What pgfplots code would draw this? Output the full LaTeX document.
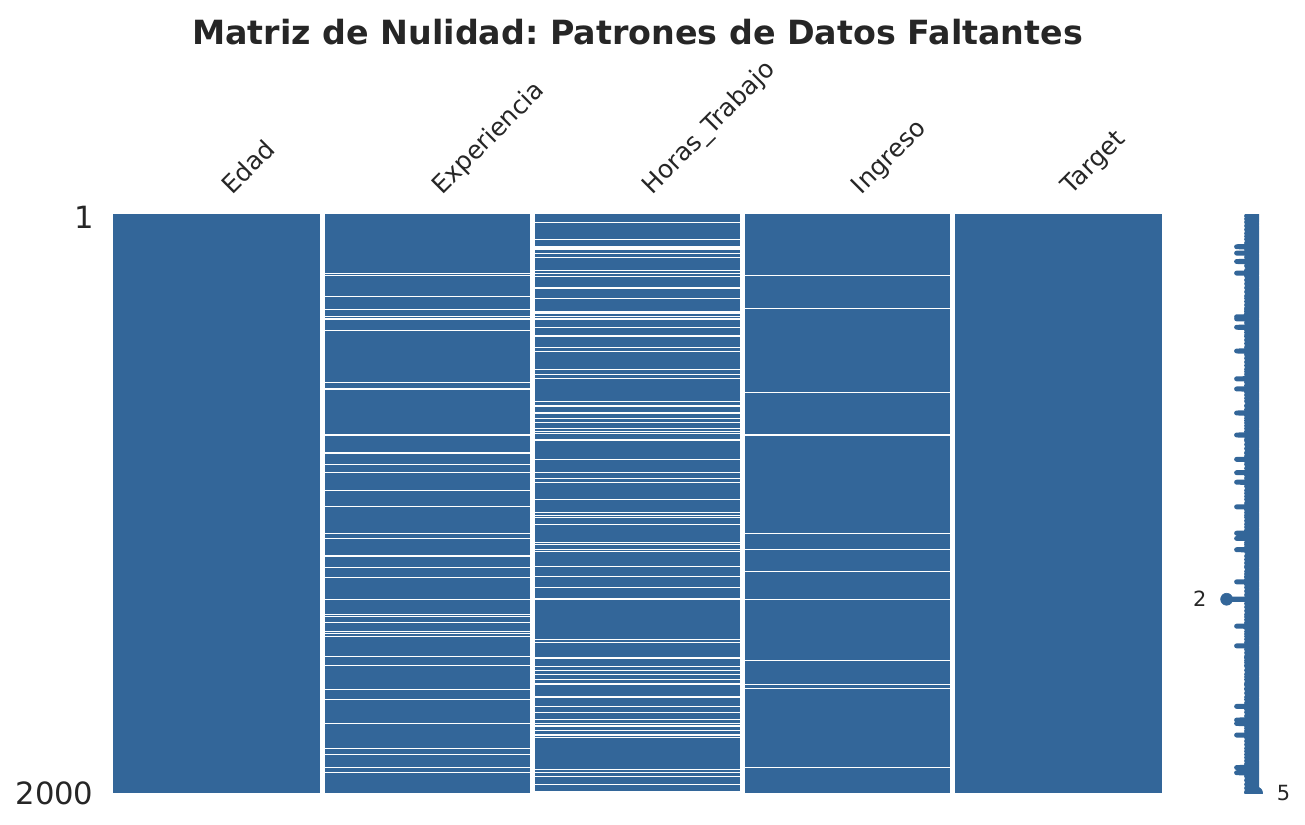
\documentclass[border=0pt]{standalone}
\usepackage{fontspec}
\setmainfont{DejaVu Sans}
\usepackage{pgfplots}
\usepackage{pgfplotstable}
\pgfplotsset{compat=1.18}
\definecolor{mblue}{HTML}{336699}
\definecolor{tc}{HTML}{262626}
\frenchspacing

% missing cells: column index (1=Experiencia, 2=Horas_Trabajo, 3=Ingreso), row
\pgfplotstableread{
col row
1 205
1 214
1 284
1 330
1 356
1 363
1 402
1 582
1 605
1 764
1 825
1 827
1 865
1 894
1 955
1 1012
1 1103
1 1121
1 1182
1 1221
1 1255
1 1331
1 1333
1 1384
1 1392
1 1412
1 1443
1 1451
1 1459
1 1528
1 1559
1 1642
1 1677
1 1760
1 1846
1 1867
1 1912
1 1930
2 29
2 88
2 114
2 117
2 120
2 123
2 136
2 150
2 195
2 205
2 215
2 256
2 292
2 336
2 339
2 345
2 356
2 363
2 392
2 419
2 424
2 461
2 474
2 537
2 554
2 570
2 647
2 662
2 664
2 688
2 706
2 722
2 742
2 752
2 758
2 779
2 784
2 848
2 894
2 913
2 927
2 986
2 1032
2 1041
2 1048
2 1072
2 1136
2 1143
2 1160
2 1167
2 1217
2 1252
2 1290
2 1329
2 1331
2 1469
2 1480
2 1532
2 1534
2 1562
2 1576
2 1590
2 1608
2 1621
2 1627
2 1669
2 1701
2 1721
2 1748
2 1760
2 1769
2 1786
2 1800
2 1809
2 1918
2 1930
2 1942
2 1970
2 1996
2 1999
3 212
3 326
3 616
3 764
3 1103
3 1160
3 1235
3 1331
3 1542
3 1625
3 1639
3 1912
}\missing

\begin{document}
\begin{tikzpicture}
\useasboundingbox (-75.33bp,-21.33bp) rectangle (794.67bp,528.67bp);
\begin{axis}[
  name=main, at={(0,0)}, anchor=south west,
  scale only axis, width=699.33bp, height=386bp,
  xmin=-0.5, xmax=4.5, ymin=0.5, ymax=2000.5, y dir=reverse,
  axis line style={draw=none}, tick style={draw=none},
  xtick=\empty, ytick={2000}, yticklabels={2000},
  extra y ticks={1}, extra y tick labels={1},
  extra y tick style={yticklabel style={yshift=-2bp}},
  /pgf/number format/assume math mode=true,
  yticklabel style={font=\fontsize{20.5}{24}\selectfont, text=tc, inner sep=0pt, anchor=east, xshift=-12.8bp},
  clip=false,
]
\addplot[draw=none, fill=mblue] coordinates {(-0.5,0.5) (4.5,0.5) (4.5,2000.5) (-0.5,2000.5)} -- cycle;
\addplot[only marks, mark=-, white, line width=0.75bp, mark size=69.93bp] table[x=col,y=row] {\missing};
\addplot[white, line width=3.3bp, unbounded coords=jump] coordinates {(0.5,0.5) (0.5,2000.5) (nan,nan) (1.5,0.5) (1.5,2000.5) (nan,nan) (2.5,0.5) (2.5,2000.5) (nan,nan) (3.5,0.5) (3.5,2000.5)};
\foreach \i/\lab in {0/Edad,1/Experiencia,2/Horas\_Trabajo,3/Ingreso,4/Target}{
  \edef\temp{\noexpand\node[rotate=45, anchor=base west, inner sep=0pt, font=\noexpand\fontsize{16.7}{19}\noexpand\selectfont, text=tc] at ([xshift=9.6bp,yshift=12.4bp]axis cs:\i,0.5) {\unexpanded\expandafter{\lab}};}
  \temp
}
\node[anchor=base, inner sep=0pt, font=\fontsize{22.3}{26}\selectfont\bfseries, text=tc] at ([yshift=113.3bp]axis cs:2,0.5) {Matriz de Nulidad: Patrones de Datos Faltantes};
\end{axis}
\begin{axis}[
  at={(729.1bp,0)}, anchor=south west,
  scale only axis, width=46.6bp, height=386bp,
  xmin=0, xmax=7, ymin=1, ymax=2000, y dir=reverse,
  hide axis, clip=true, clip marker paths=true,
]
\addplot[mblue, line width=3.3bp, line join=round] coordinates {
(5,1) (5,7) (4,8) (5,9) (5,17) (4,18) (5,19) (5,28) (4,29) (5,30)
(5,41) (4,42) (5,43) (5,54) (4,55) (5,56) (5,67) (4,68) (5,69) (5,77) (4,78) (5,79)
(5,87) (4,88) (5,89) (5,100) (4,101) (5,102) (5,113) (3,114) (5,115)
(5,116) (4,117) (5,118) (5,119) (4,120) (5,121) (5,122) (4,123) (5,124)
(5,135) (3,136) (5,137) (5,149) (4,150) (5,151) (5,164) (3,165) (5,166)
(5,179) (4,180) (5,181) (5,194) (4,195) (5,196) (5,204) (3,205) (5,206)
(5,211) (4,212) (5,213) (4,214) (4,215) (5,216) (5,228) (4,229) (5,230) (5,241) (4,242) (5,243)
(5,255) (4,256) (5,257) (5,269) (4,270) (5,271) (5,283) (4,284) (5,285) (5,291) (4,292) (5,293)
(5,302) (4,303) (5,304) (5,314) (4,315) (5,316) (5,325) (4,326) (5,327) (5,329) (4,330) (5,331)
(5,335) (4,336) (5,337) (5,338) (4,339) (5,340) (5,344) (4,345) (5,346) (5,355) (3,356) (5,357)
(5,362) (3,363) (5,364) (5,376) (4,377) (5,378) (5,391) (3,392) (5,393) (5,401) (4,402) (5,403)
(5,409) (4,410) (5,411) (5,418) (4,419) (5,420) (5,423) (4,424) (5,425) (5,435) (4,436) (5,437)
(5,447) (4,448) (5,449) (5,460) (4,461) (5,462) (5,473) (3,474) (5,475) (5,486) (4,487) (5,488)
(5,498) (4,499) (5,500) (5,511) (4,512) (5,513) (5,523) (4,524) (5,525) (5,536) (4,537) (5,538)
(5,544) (4,545) (5,546) (5,553) (4,554) (5,555) (5,561) (4,562) (5,563) (5,569) (3,570) (5,571)
(5,581) (4,582) (5,583) (5,592) (4,593) (5,594) (5,604) (3,605) (5,606) (5,615) (4,616) (5,617)
(5,625) (4,626) (5,627) (5,636) (4,637) (5,638) (5,646) (4,647) (5,648) (5,661) (4,662) (5,663) (4,664) (5,665)
(5,675) (4,676) (5,677) (5,687) (3,688) (5,689) (5,696) (4,697) (5,698) (5,705) (4,706) (5,707)
(5,713) (4,714) (5,715) (5,721) (4,722) (5,723) (5,731) (4,732) (5,733) (5,741) (4,742) (5,743)
(5,751) (4,752) (5,753) (5,757) (4,758) (5,759) (5,763) (3,764) (5,765) (5,778) (4,779) (5,780)
(5,783) (4,784) (5,785) (5,796) (4,797) (5,798) (5,810) (4,811) (5,812) (5,824) (4,825) (5,826) (4,827) (5,828)
(5,836) (4,837) (5,838) (5,847) (3,848) (5,849) (5,855) (4,856) (5,857) (5,864) (4,865) (5,866)
(5,878) (4,879) (5,880) (5,893) (3,894) (5,895) (5,902) (4,903) (5,904) (5,912) (4,913) (5,914)
(5,926) (3,927) (5,928) (5,940) (4,941) (5,942) (5,954) (4,955) (5,956) (5,964) (4,965) (5,966)
(5,975) (4,976) (5,977) (5,985) (4,986) (5,987) (5,998) (4,999) (5,1000) (5,1011) (3,1012) (5,1013)
(5,1021) (4,1022) (5,1023) (5,1031) (4,1032) (5,1033) (5,1040) (4,1041) (5,1042) (5,1047) (4,1048) (5,1049)
(5,1059) (4,1060) (5,1061) (5,1071) (4,1072) (5,1073) (5,1081) (4,1082) (5,1083) (5,1092) (4,1093) (5,1094)
(5,1102) (3,1103) (5,1104) (5,1111) (4,1112) (5,1113) (5,1120) (3,1121) (5,1122) (5,1135) (4,1136) (5,1137)
(5,1142) (4,1143) (5,1144) (5,1150) (4,1151) (5,1152) (5,1159) (3,1160) (5,1161) (5,1166) (4,1167) (5,1168)
(5,1181) (4,1182) (5,1183) (5,1193) (4,1194) (5,1195) (5,1205) (4,1206) (5,1207) (5,1216) (4,1217) (5,1218)
(5,1220) (4,1221) (5,1222) (5,1234) (4,1235) (5,1236) (5,1243) (4,1244) (5,1245) (5,1251) (4,1252) (5,1253)
(5,1254) (4,1255) (5,1256) (5,1262) (4,1263) (5,1264) (5,1270) (3,1271) (5,1272) (5,1279) (4,1280) (5,1281)
(5,1289) (4,1290) (5,1291) (5,1302) (4,1303) (5,1304) (5,1315) (4,1316) (5,1317)
(5,1328) (4,1329) (5,1330) (2,1331) (5,1332) (4,1333) (5,1334)
(5,1345) (4,1346) (5,1347) (5,1357) (4,1358) (5,1359) (5,1370) (4,1371) (5,1372) (5,1383) (4,1384) (5,1385)
(5,1391) (4,1392) (5,1393) (5,1401) (4,1402) (5,1403) (5,1411) (4,1412) (5,1413) (5,1423) (3,1424) (5,1425)
(5,1432) (4,1433) (5,1434) (5,1442) (4,1443) (5,1444) (5,1450) (4,1451) (5,1452) (5,1458) (4,1459) (5,1460)
(5,1468) (4,1469) (5,1470) (5,1479) (4,1480) (5,1481) (5,1491) (3,1492) (5,1493) (5,1503) (4,1504) (5,1505)
(5,1515) (4,1516) (5,1517) (5,1527) (4,1528) (5,1529) (5,1531) (4,1532) (5,1533) (4,1534) (5,1535)
(5,1541) (4,1542) (5,1543) (5,1549) (4,1550) (5,1551) (5,1558) (4,1559) (5,1560) (5,1561) (4,1562) (5,1563)
(5,1575) (4,1576) (5,1577) (5,1589) (4,1590) (5,1591) (5,1598) (4,1599) (5,1600) (5,1607) (4,1608) (5,1609)
(5,1620) (4,1621) (5,1622) (5,1624) (4,1625) (5,1626) (4,1627) (5,1628) (5,1638) (4,1639) (5,1640) (5,1641) (4,1642) (5,1643)
(5,1654) (4,1655) (5,1656) (5,1668) (4,1669) (5,1670) (5,1676) (4,1677) (5,1678) (5,1688) (4,1689) (5,1690)
(5,1700) (3,1701) (5,1702) (5,1710) (4,1711) (5,1712) (5,1720) (4,1721) (5,1722) (5,1733) (4,1734) (5,1735)
(5,1747) (3,1748) (5,1749) (5,1759) (3,1760) (5,1761) (5,1768) (4,1769) (5,1770) (5,1776) (4,1777) (5,1778)
(5,1785) (4,1786) (5,1787) (5,1799) (3,1800) (5,1801) (5,1808) (4,1809) (5,1810) (5,1820) (4,1821) (5,1822)
(5,1832) (4,1833) (5,1834) (5,1845) (4,1846) (5,1847) (5,1855) (4,1856) (5,1857) (5,1866) (4,1867) (5,1868)
(5,1877) (4,1878) (5,1879) (5,1888) (4,1889) (5,1890) (5,1899) (4,1900) (5,1901) (5,1911) (3,1912) (5,1913)
(5,1917) (4,1918) (5,1919) (5,1929) (3,1930) (5,1931) (5,1941) (4,1942) (5,1943) (5,1955) (4,1956) (5,1957)
(5,1969) (4,1970) (5,1971) (5,1982) (4,1983) (5,1984) (5,1995) (4,1996) (5,1997) (5,1998) (4,1999) (5,2000)
};
\addplot[only marks, mark=*, mark size=4bp, mblue] coordinates {(2,1331) (5,2000)};
\coordinate (lo) at (axis cs:0,1331);
\coordinate (hi) at (axis cs:7,2000);
\end{axis}
\node[anchor=east, inner sep=0pt, font=\fontsize{14}{17}\selectfont, text=tc] at (lo) {2};
\node[anchor=west, inner sep=0pt, font=\fontsize{14}{17}\selectfont, text=tc] at (hi) {5};
\end{tikzpicture}
\end{document}
